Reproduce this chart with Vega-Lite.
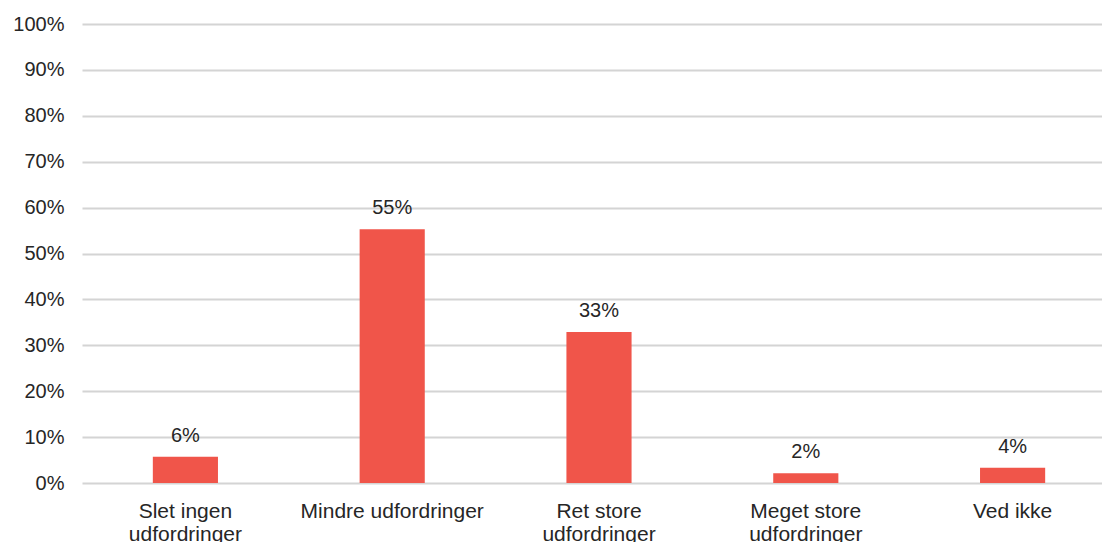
{
  "$schema": "https://vega.github.io/schema/vega-lite/v6.json",
  "autosize": "none",
  "padding": {"left": 82, "top": 24, "right": 0, "bottom": 70},
  "width": 1034,
  "height": 459,
  "background": "white",
  "config": {
    "view": {"stroke": null},
    "font": "Liberation Sans"
  },
  "data": {
    "values": [
      {"kategori": "Slet ingen udfordringer", "andel": 0.057, "label": "6%"},
      {"kategori": "Mindre udfordringer", "andel": 0.553, "label": "55%"},
      {"kategori": "Ret store udfordringer", "andel": 0.329, "label": "33%"},
      {"kategori": "Meget store udfordringer", "andel": 0.021, "label": "2%"},
      {"kategori": "Ved ikke", "andel": 0.033, "label": "4%"}
    ]
  },
  "encoding": {
    "x": {
      "field": "kategori",
      "type": "nominal",
      "sort": null,
      "scale": {"paddingInner": 0.685, "paddingOuter": 0.3425},
      "axis": {
        "title": null,
        "domain": false,
        "ticks": false,
        "labelAngle": 0,
        "labelFont": "Liberation Sans",
        "labelFontSize": 21,
        "labelColor": "#262626",
        "labelPadding": 17,
        "labelLineHeight": 23,
        "labelLimit": 0,
        "labelExpr": "datum.label == 'Slet ingen udfordringer' ? ['Slet ingen', 'udfordringer'] : datum.label == 'Ret store udfordringer' ? ['Ret store', 'udfordringer'] : datum.label == 'Meget store udfordringer' ? ['Meget store', 'udfordringer'] : datum.label"
      }
    },
    "y": {
      "field": "andel",
      "type": "quantitative",
      "scale": {"domain": [0, 1], "nice": false},
      "axis": {
        "title": null,
        "format": ".0%",
        "values": [0, 0.1, 0.2, 0.3, 0.4, 0.5, 0.6, 0.7, 0.8, 0.9, 1],
        "domain": false,
        "ticks": false,
        "grid": true,
        "gridColor": "#d4d4d4",
        "gridWidth": 2,
        "labelFont": "Liberation Sans",
        "labelFontSize": 20,
        "labelColor": "#262626",
        "labelPadding": 18
      }
    }
  },
  "layer": [
    {
      "mark": {"type": "bar", "color": "#F0554A"}
    },
    {
      "mark": {
        "type": "text",
        "baseline": "alphabetic",
        "dy": -15,
        "font": "Liberation Sans",
        "fontSize": 20,
        "color": "#262626"
      },
      "encoding": {"text": {"field": "label"}}
    }
  ]
}
